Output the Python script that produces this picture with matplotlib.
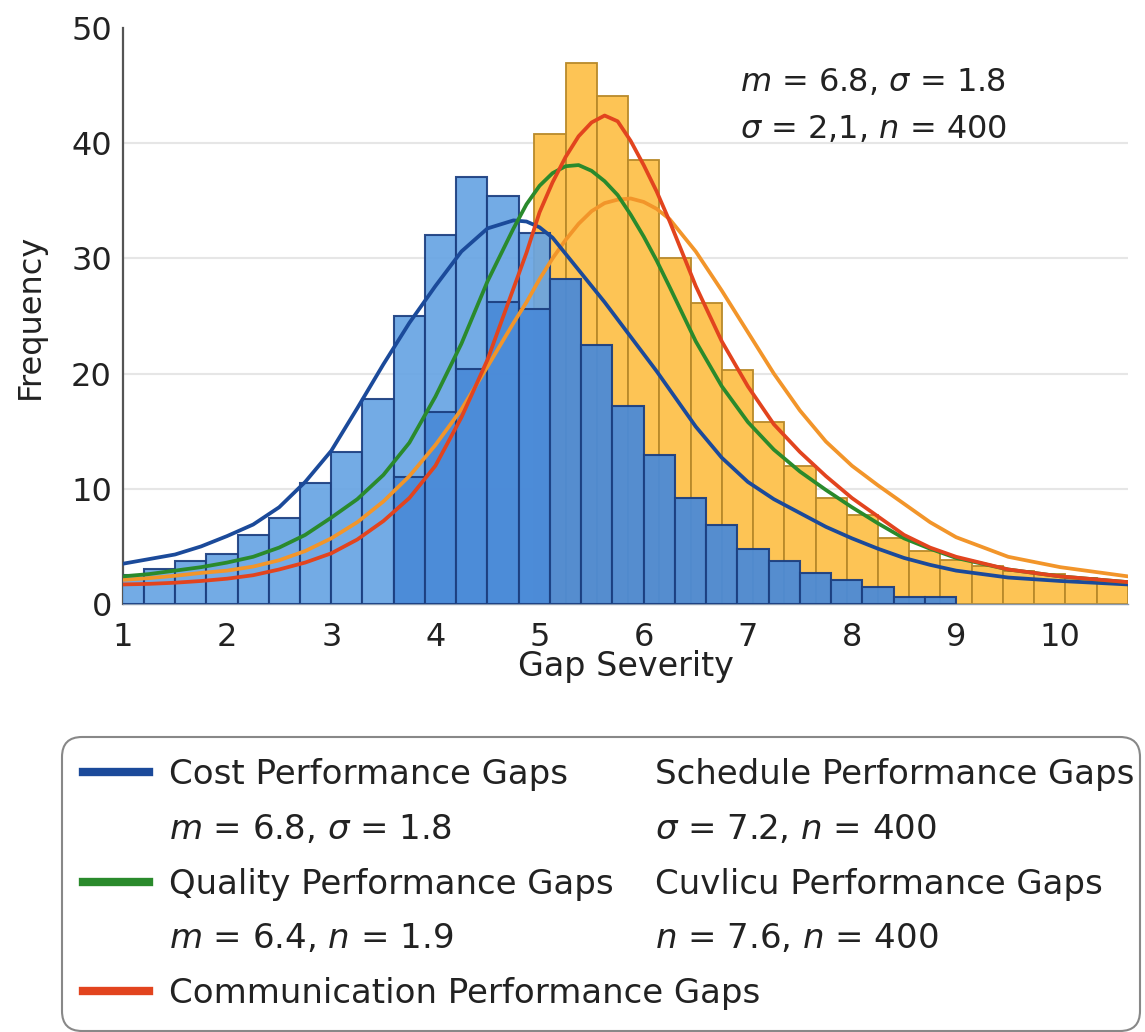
import numpy as np
import matplotlib.pyplot as plt
from matplotlib.lines import Line2D

plt.rcParams['font.family'] = ['DejaVu Sans']
plt.rcParams['mathtext.fontset'] = 'dejavusans'

# histogram bins (left edges), width 0.3
blue_light_left = [0.9, 1.2, 1.5, 1.8, 2.1, 2.4, 2.7, 3.0, 3.3, 3.6, 3.9, 4.2, 4.5, 4.8]
blue_light_freq = [2.5, 3.0, 3.7, 4.3, 6.0, 7.5, 10.5, 13.2, 17.8, 25.0, 32.0, 37.1, 35.4, 32.2]

blue_dark_left = [3.6, 3.9, 4.2, 4.5, 4.8, 5.1, 5.4, 5.7, 6.0, 6.3, 6.6, 6.9, 7.2, 7.5, 7.8, 8.1, 8.4, 8.7]
blue_dark_freq = [11.0, 16.7, 20.4, 26.2, 25.6, 28.2, 22.5, 17.2, 12.9, 9.2, 6.9, 4.8, 3.7, 2.7, 2.1, 1.5, 0.6, 0.6]

yellow_left = [4.95, 5.25, 5.55, 5.85, 6.15, 6.45, 6.75, 7.05, 7.35, 7.65, 7.95, 8.25, 8.55,
               8.85, 9.15, 9.45, 9.75, 10.05, 10.35]
yellow_freq = [40.8, 47.0, 44.1, 38.5, 30.0, 26.1, 20.3, 15.8, 12.0, 9.2, 7.7, 5.7, 4.6,
               3.8, 3.3, 2.9, 2.6, 2.3, 2.0]

# fitted curves
curve_x = [1.0, 1.25, 1.5, 1.75, 2.0, 2.25, 2.5, 2.75, 3.0, 3.25, 3.5, 3.75, 4.0, 4.25, 4.5,
           4.75, 4.875, 5.0, 5.125, 5.25, 5.375, 5.5, 5.625, 5.75, 5.875, 6.0, 6.125, 6.25,
           6.5, 6.75, 7.0, 7.25, 7.5, 7.75, 8.0, 8.25, 8.5, 8.75, 9.0, 9.5, 10.0, 10.65]
cost_curve = [3.5, 3.9, 4.3, 5.0, 5.9, 6.9, 8.4, 10.6, 13.3, 17.0, 20.8, 24.4, 27.6, 30.6, 32.6,
              33.3, 33.2, 32.7, 31.8, 30.4, 29.0, 27.6, 26.2, 24.7, 23.2, 21.7, 20.2, 18.6,
              15.4, 12.7, 10.6, 9.1, 7.9, 6.7, 5.7, 4.8, 4.0, 3.4, 2.9, 2.3, 2.0, 1.7]
quality_curve = [2.4, 2.6, 2.9, 3.2, 3.6, 4.1, 4.9, 6.0, 7.5, 9.1, 11.2, 14.0, 18.0, 22.6, 28.0,
                 32.6, 34.7, 36.3, 37.4, 38.0, 38.1, 37.6, 36.7, 35.5, 33.8, 31.9, 29.8, 27.5,
                 22.8, 18.9, 15.8, 13.4, 11.5, 9.9, 8.4, 7.0, 5.7, 4.8, 4.0, 3.0, 2.4, 1.9]
comm_curve = [1.7, 1.75, 1.85, 2.0, 2.2, 2.5, 3.0, 3.6, 4.4, 5.6, 7.2, 9.2, 12.0, 16.2, 21.2,
              27.4, 30.5, 34.0, 36.6, 38.8, 40.6, 41.8, 42.4, 41.9, 40.2, 38.1, 35.8, 33.2,
              27.6, 22.8, 18.9, 15.6, 13.2, 11.1, 9.2, 7.6, 6.0, 4.9, 4.1, 3.0, 2.4, 1.9]
schedule_curve = [2.1, 2.25, 2.45, 2.7, 2.9, 3.25, 3.8, 4.6, 5.7, 7.1, 8.9, 11.1, 13.8, 16.9, 20.6,
                  24.4, 26.2, 28.2, 30.0, 31.6, 33.0, 34.1, 34.8, 35.1, 35.2, 34.9, 34.3, 33.4,
                  30.6, 27.2, 23.6, 20.0, 16.8, 14.1, 12.0, 10.3, 8.7, 7.1, 5.8, 4.1, 3.2, 2.4]

c_blue = "#1b4a9a"
c_green = "#2a8a2c"
c_red = "#e2441e"
c_orange = "#f2952a"
txt = "#222222"

fig = plt.figure(figsize=(11.45, 10.32), dpi=100)
ax = fig.add_axes([0.1074, 0.4147, 0.8777, 0.5582])

ax.bar(yellow_left, yellow_freq, width=0.3, align='edge', color="#fdc455",
       edgecolor="#b98a2a", linewidth=1.3, zorder=2)
ax.bar(blue_light_left, blue_light_freq, width=0.3, align='edge', color="#67a4e3",
       edgecolor="#1c3f80", linewidth=1.5, alpha=0.92, zorder=3)
ax.bar(blue_dark_left, blue_dark_freq, width=0.3, align='edge', color="#4a8ad8",
       edgecolor="#1c3f80", linewidth=1.5, alpha=0.94, zorder=3.5)

ax.plot(curve_x, schedule_curve, color=c_orange, lw=2.7, zorder=5)
ax.plot(curve_x, cost_curve, color=c_blue, lw=2.7, zorder=5)
ax.plot(curve_x, quality_curve, color=c_green, lw=2.7, zorder=5)
ax.plot(curve_x, comm_curve, color=c_red, lw=2.7, zorder=5)

ax.set_xlim(1.0, 10.65)
ax.set_ylim(0, 50)
ax.set_xticks(range(1, 11))
ax.set_yticks([0, 10, 20, 30, 40, 50])
ax.tick_params(axis='both', length=0, labelsize=23, colors=txt)
ax.tick_params(axis='x', pad=13)
ax.tick_params(axis='y', pad=8)
ax.grid(axis='y', color="#e6e6e6", lw=1.5, zorder=0)
ax.set_axisbelow(True)
ax.get_ygridlines()[0].set_visible(False)
ax.get_ygridlines()[-1].set_visible(False)
for s in ['top', 'right']:
    ax.spines[s].set_visible(False)
ax.spines['left'].set_color("#555555")
ax.spines['left'].set_linewidth(1.6)
ax.spines['bottom'].set_color("#8a9ab0")
ax.spines['bottom'].set_linewidth(1.0)

ax.set_xlabel("Gap Severity", fontsize=24, labelpad=-2, color=txt)
ax.set_ylabel("Frequency", fontsize=23, labelpad=18, color=txt)

ax.text(0.614, 0.906, r"$m$ = 6.8, $\sigma$ = 1.8", transform=ax.transAxes,
        fontsize=23, va='center', ha='left', color=txt)
ax.text(0.614, 0.823, r"$\sigma$ = 2,1, $n$ = 400", transform=ax.transAxes,
        fontsize=23, va='center', ha='left', color=txt)

blank = Line2D([], [], color='none')
h1 = [Line2D([], [], color=c_blue, lw=6), blank,
      Line2D([], [], color=c_green, lw=6), blank,
      Line2D([], [], color=c_red, lw=6)]
l1 = ["Cost Performance Gaps", r"$m$ = 6.8, $\sigma$ = 1.8",
      "Quality Performance Gaps", r"$m$ = 6.4, $n$ = 1.9",
      "Communication Performance Gaps"]
l2 = ["Schedule Performance Gaps", r"$\sigma$ = 7.2, $n$ = 400",
      "Cuvlicu Performance Gaps", r"$n$ = 7.6, $n$ = 400"]

fs = 24.5
leg1 = fig.legend(h1, l1, loc='upper left', bbox_to_anchor=(0.0541, 0.0, 0.9415, 0.2859),
                  mode='expand', borderaxespad=0, fontsize=fs, frameon=True, fancybox=True,
                  handlelength=1.94, handletextpad=0.59, borderpad=0.62, labelspacing=0.64,
                  labelcolor=txt)
leg1.get_frame().set_edgecolor("#6a6a6a")
leg1.get_frame().set_linewidth(1.5)
leg1.get_frame().set_boxstyle('round,pad=0,rounding_size=0.6')

leg2 = fig.legend([blank] * 4, l2, loc='upper left', bbox_to_anchor=(0.5537, 0.2859),
                  borderaxespad=0, fontsize=fs, frameon=False,
                  handlelength=0, handletextpad=0, borderpad=0.62, labelspacing=0.64,
                  labelcolor=txt)

fig.savefig("out.png", dpi=100)
